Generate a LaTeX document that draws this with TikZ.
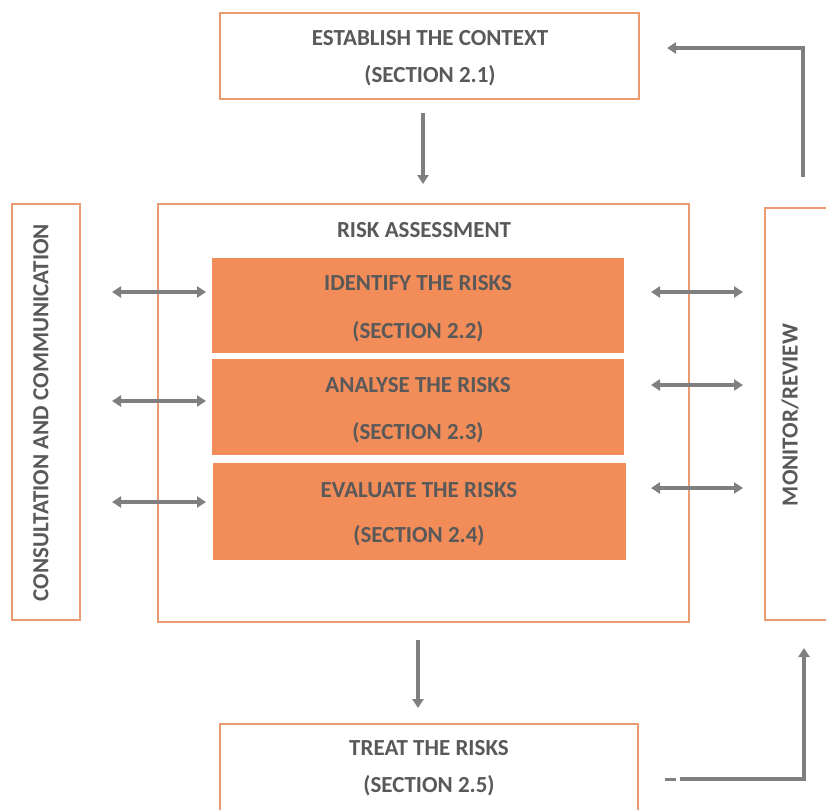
\documentclass[tikz,border=0pt]{standalone}
\usepackage{fontspec}
\setmainfont{Carlito}
\usetikzlibrary{arrows.meta}
\definecolor{obord}{HTML}{EC9A72}
\definecolor{ofill}{HTML}{F28C58}
\definecolor{agray}{HTML}{7F7F7F}
\definecolor{tgray}{HTML}{595959}
\tikzset{
  outbox/.style={draw=obord, line width=1.6pt, fill=white, inner sep=0pt},
  stepbox/.style={fill=ofill, draw=none, inner sep=0pt},
  lbl/.style={text=tgray, font=\bfseries\fontsize{23}{37}\selectfont, align=center, inner sep=0pt},
  conn/.style={draw=agray, line width=4pt, -{Triangle[width=11pt,length=9pt]}},
  dconn/.style={draw=agray, line width=4pt, {Triangle[width=11pt,length=9pt]}-{Triangle[width=11pt,length=9pt]}},
}
\begin{document}
\begin{tikzpicture}[x=1pt,y=-1pt]
\useasboundingbox (0,0) rectangle (826,809);
\clip (0,0) rectangle (826,809);
\fill[white] (0,0) rectangle (826,809);
% outer boxes
\node[outbox, minimum width=419pt, minimum height=86pt] (est) at (429.5,56) {};
\node[lbl, font=\bfseries\fontsize{23}{37}\selectfont] at (430,58) {ESTABLISH THE CONTEXT\\(SECTION 2.1)};
\node[outbox, minimum width=531pt, minimum height=418pt] (ra) at (423.5,413) {};
\node[lbl] (ratext) at (424,230) {RISK ASSESSMENT};
\node[outbox, minimum width=68pt, minimum height=416pt] (cc) at (46,412) {};
\node[lbl, rotate=90] at (41,412.5) {CONSULTATION AND COMMUNICATION};
\node[outbox, minimum width=80pt, minimum height=412pt] (mr) at (805,414) {};
\node[lbl, rotate=90] at (790,415) {MONITOR/REVIEW};
\node[outbox, minimum width=418pt, minimum height=100pt] (tr) at (429,774) {};
\node[lbl] at (429,768) {TREAT THE RISKS\\(SECTION 2.5)};
% step boxes
\node[stepbox, minimum width=412pt, minimum height=95pt] (id) at (418,305.5) {};
\node[lbl, font=\bfseries\fontsize{23}{48}\selectfont] at (418,308.5) {IDENTIFY THE RISKS\\(SECTION 2.2)};
\node[stepbox, minimum width=412pt, minimum height=96pt] (an) at (418,407) {};
\node[lbl, font=\bfseries\fontsize{23}{47}\selectfont] at (418,410.5) {ANALYSE THE RISKS\\(SECTION 2.3)};
\node[stepbox, minimum width=413pt, minimum height=97pt] (ev) at (419.5,511.5) {};
\node[lbl, font=\bfseries\fontsize{23}{45}\selectfont] at (419,514.5) {EVALUATE THE RISKS\\(SECTION 2.4)};
% coordinates for connectors
\coordinate (a1s) at (423,113); \coordinate (a1e) at (423,184);
\coordinate (a2s) at (418,640); \coordinate (a2e) at (418,708);
\coordinate (L1a) at (112,292); \coordinate (L1b) at (206,292);
\coordinate (L2a) at (112,401); \coordinate (L2b) at (206,401);
\coordinate (L3a) at (112,502); \coordinate (L3b) at (206,502);
\coordinate (R1a) at (651,292); \coordinate (R1b) at (743,292);
\coordinate (R2a) at (651,385); \coordinate (R2b) at (743,385);
\coordinate (R3a) at (651,488); \coordinate (R3b) at (743,488);
\coordinate (tl) at (803,177); \coordinate (tc) at (803,48); \coordinate (te) at (667,48);
\coordinate (bs) at (680,779); \coordinate (bc) at (804,779); \coordinate (be) at (804,648);
% connectors
\draw[conn] (a1s) -- (a1e);
\draw[conn] (a2s) -- (a2e);
\draw[dconn] (L1a) -- (L1b);
\draw[dconn] (L2a) -- (L2b);
\draw[dconn] (L3a) -- (L3b);
\draw[dconn] (R1a) -- (R1b);
\draw[dconn] (R2a) -- (R2b);
\draw[dconn] (R3a) -- (R3b);
\draw[conn] (tl) -- (tc) -- (te);
\draw[conn] (bs) -- (bc) -- (be);
\coordinate (d1) at (665,779); \coordinate (d2) at (676,779);
\draw[draw=agray, line width=3pt] (d1) -- (d2);
\end{tikzpicture}
\end{document}
